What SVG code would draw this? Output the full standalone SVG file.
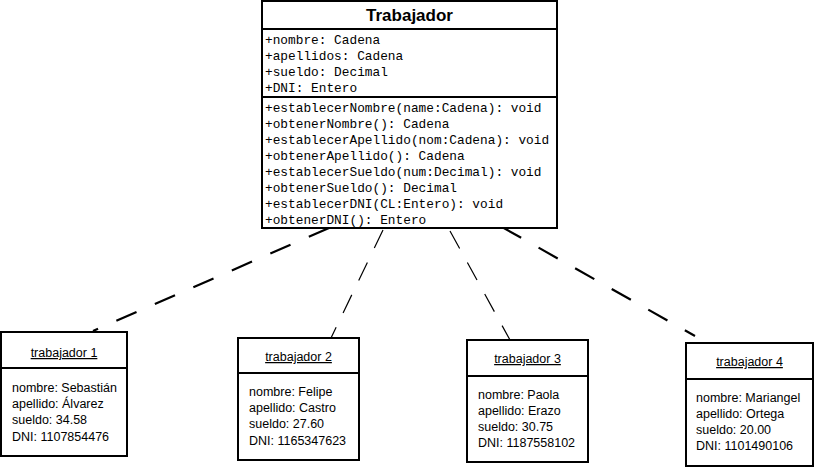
<svg xmlns="http://www.w3.org/2000/svg" width="815" height="468" viewBox="0 0 815 468">
  <style>
    .box { fill: #fff; stroke: #000; stroke-width: 2; }
    .sep { stroke: #000; stroke-width: 2; }
    .mono { font-family: "Liberation Mono", "Courier New", monospace; font-size: 12.8px; fill: #000; }
    .cls { font-family: "Liberation Sans", Arial, sans-serif; font-size: 17px; font-weight: bold; fill: #000; }
    .obj { font-family: "Liberation Sans", Arial, sans-serif; font-size: 12.5px; fill: #000; }
    .thick { stroke: #000; stroke-width: 2.2; fill: none; stroke-dasharray: 22 20; }
    .thin { stroke: #000; stroke-width: 1.2; fill: none; stroke-dasharray: 20 16; }
  </style>
  <rect width="815" height="468" fill="#fff"/>

  <g id="connectors">
    <line class="thick" x1="329" y1="228" x2="93" y2="331"/>
    <line class="thin" x1="383" y1="230" x2="331" y2="338"/>
    <line class="thin" x1="450" y1="231" x2="510" y2="340"/>
    <line class="thick" x1="502" y1="227" x2="695" y2="336"/>
  </g>

  <g id="Trabajador">
    <rect class="box" x="262" y="1" width="295" height="227"/>
    <line class="sep" x1="262" y1="29" x2="557" y2="29"/>
    <line class="sep" x1="262" y1="97" x2="557" y2="97"/>
    <text class="cls" x="409.5" y="21" text-anchor="middle">Trabajador</text>
    <text class="mono" x="265" y="44">+nombre: Cadena</text>
    <text class="mono" x="265" y="60">+apellidos: Cadena</text>
    <text class="mono" x="265" y="76">+sueldo: Decimal</text>
    <text class="mono" x="265" y="92">+DNI: Entero</text>
    <text class="mono" x="265" y="112">+establecerNombre(name:Cadena): void</text>
    <text class="mono" x="265" y="128">+obtenerNombre(): Cadena</text>
    <text class="mono" x="265" y="144">+establecerApellido(nom:Cadena): void</text>
    <text class="mono" x="265" y="160">+obtenerApellido(): Cadena</text>
    <text class="mono" x="265" y="176">+establecerSueldo(num:Decimal): void</text>
    <text class="mono" x="265" y="192">+obtenerSueldo(): Decimal</text>
    <text class="mono" x="265" y="208">+establecerDNI(CL:Entero): void</text>
    <text class="mono" x="265" y="224">+obtenerDNI(): Entero</text>
  </g>

  <g id="trabajador1">
    <rect class="box" x="1" y="332" width="126" height="124"/>
    <line class="sep" x1="1" y1="368" x2="127" y2="368"/>
    <text class="obj" x="64" y="357" text-anchor="middle" text-decoration="underline">trabajador 1</text>
    <text class="obj" x="12" y="392">nombre: Sebastián</text>
    <text class="obj" x="12" y="408">apellido: Álvarez</text>
    <text class="obj" x="12" y="424">sueldo: 34.58</text>
    <text class="obj" x="12" y="441">DNI: 1107854476</text>
  </g>

  <g id="trabajador2">
    <rect class="box" x="238" y="338" width="121" height="122"/>
    <line class="sep" x1="238" y1="373" x2="359" y2="373"/>
    <text class="obj" x="298.5" y="361" text-anchor="middle" text-decoration="underline">trabajador 2</text>
    <text class="obj" x="249" y="396">nombre: Felipe</text>
    <text class="obj" x="249" y="412">apellido: Castro</text>
    <text class="obj" x="249" y="428">sueldo: 27.60</text>
    <text class="obj" x="249" y="445">DNI: 1165347623</text>
  </g>

  <g id="trabajador3">
    <rect class="box" x="467" y="340" width="121" height="122"/>
    <line class="sep" x1="467" y1="376" x2="588" y2="376"/>
    <text class="obj" x="527.5" y="363" text-anchor="middle" text-decoration="underline">trabajador 3</text>
    <text class="obj" x="478" y="399">nombre: Paola</text>
    <text class="obj" x="478" y="415">apellido: Erazo</text>
    <text class="obj" x="478" y="431">sueldo: 30.75</text>
    <text class="obj" x="478" y="447">DNI: 1187558102</text>
  </g>

  <g id="trabajador4">
    <rect class="box" x="686" y="343" width="127" height="123"/>
    <line class="sep" x1="686" y1="379" x2="813" y2="379"/>
    <text class="obj" x="749.5" y="366" text-anchor="middle" text-decoration="underline">trabajador 4</text>
    <text class="obj" x="696" y="402">nombre: Mariangel</text>
    <text class="obj" x="696" y="418">apellido: Ortega</text>
    <text class="obj" x="696" y="434">sueldo: 20.00</text>
    <text class="obj" x="696" y="450">DNI: 1101490106</text>
  </g>
</svg>
